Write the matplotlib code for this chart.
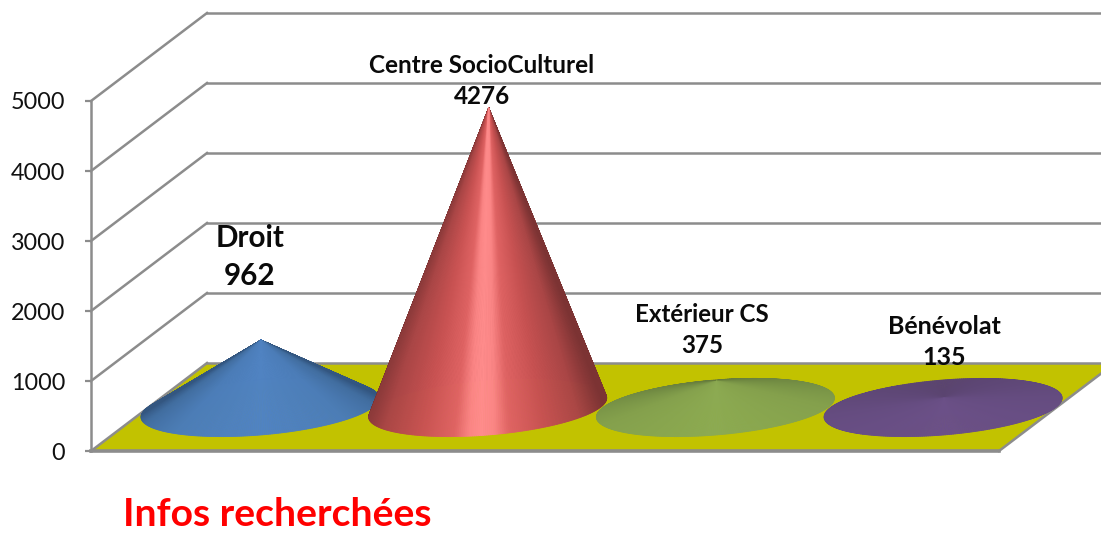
import numpy as np
import matplotlib
matplotlib.use("Agg")
import matplotlib.pyplot as plt
from matplotlib.collections import PolyCollection
from matplotlib.colors import to_rgb

categories = ["Droit", "Centre SocioCulturel", "Extérieur CS", "Bénévolat"]
values = [962, 4276, 375, 135]
y_ticks = [0, 1000, 2000, 3000, 4000, 5000]
title = "Infos recherchées"

W, H = 1101, 533
UX = 227.7          # pixels per category step
UY = 0.07           # pixels per value unit
X0, Y0 = 260.0, 451.0

fig = plt.figure(figsize=(W / 100, H / 100), dpi=100)
ax = fig.add_axes([0, 0, 1, 1])
ax.set_xlim((0 - X0) / UX, (W - X0) / UX)
ax.set_ylim((Y0 - H) / UY, (Y0 - 0) / UY)


def dx(px):
    return (px - X0) / UX


def dy(px):
    return (Y0 - px) / UY


GRAY = "#8c8c8c"
LEFT, RIGHT = dx(91), dx(999)
DEPTH_X, DEPTH_Y = 116 / UX, 88 / UY
END = dx(W + 5)

# floor
ax.fill([LEFT, RIGHT, RIGHT + 116 / UX, LEFT + DEPTH_X],
        [0, 0, DEPTH_Y, DEPTH_Y], color="#c2c200", lw=0, zorder=1)
ax.plot([LEFT + DEPTH_X, END], [DEPTH_Y, DEPTH_Y], color=GRAY, lw=1.8, zorder=1.5)
ax.plot([RIGHT, RIGHT + 116 / UX], [0, DEPTH_Y], color=GRAY, lw=1.8, zorder=1.5)
ax.plot([LEFT, RIGHT], [0, 0], color=GRAY, lw=2.6, zorder=1.5)

# walls and grid
for v in y_ticks:
    ax.plot([LEFT, LEFT + DEPTH_X], [v, v + DEPTH_Y], color=GRAY, lw=1.8, zorder=1.5)
    if v > 0:
        ax.plot([LEFT + DEPTH_X, END], [v + DEPTH_Y, v + DEPTH_Y], color=GRAY, lw=1.8, zorder=0.5)

# axis
for s in ["top", "right", "bottom"]:
    ax.spines[s].set_visible(False)
ax.spines["left"].set_position(("data", LEFT))
ax.spines["left"].set_bounds(0, 5000)
ax.spines["left"].set_color(GRAY)
ax.spines["left"].set_linewidth(1.8)
ax.set_xticks([])
ax.set_yticks(y_ticks)
ax.tick_params(axis="y", length=4, width=1.6, color=GRAY, labelsize=16.8,
               labelcolor="#111111", pad=14.5)
for t in ax.get_yticklabels():
    t.set_fontfamily(["Lato", "DejaVu Sans"])


def ramp(stops, u):
    xs = [s[0] for s in stops]
    cols = np.array([to_rgb(s[1]) for s in stops])
    return np.stack([np.interp(u, xs, cols[:, i]) for i in range(3)], axis=-1)


shades = [
    [(0, "#5083c2"), (0.25, "#4c7db8"), (0.42, "#416d9f"), (0.52, "#335680"), (1.0, "#335680")],
    [(0, "#ff8c8c"), (0.1, "#fb8585"), (0.22, "#e06464"), (0.5, "#c85252"), (0.8, "#aa4646"), (1.0, "#7c3333")],
    [(0, "#8caa52"), (0.4, "#84a04c"), (0.7, "#748e44"), (1.0, "#64793a")],
    [(0, "#6b5088"), (0.5, "#654c80"), (1.0, "#5a4470")],
]
wide = [False, True, False, False]

A = 119.0 / UX      # half width of the base
B = 27.5 / UY       # half depth of the base
S = 9.5 / UY        # shear of the base
BASE = (Y0 - 407.5) / UY
labels_pos = [(250, 257), (482, 81), (702, 330), (944, 342)]
label_size = [21.3, 17.5, 17.4, 18]
label_gap = [1.46, 1.47, 1.39, 1.39]

t = np.linspace(0, 2 * np.pi, 361)
for i, (cat, val) in enumerate(zip(categories, values)):
    ex = i + A * np.cos(t)
    ey = BASE + S * np.cos(t) + B * np.sin(t)
    apex = (i + dx(X0 + 1), BASE + val)
    tris = []
    mid = (t[:-1] + t[1:]) / 2
    if wide[i]:
        u = np.clip(np.abs(np.cos(mid) + 0.05) * 0.98, 0, 1)
        u = np.where(np.sin(mid) > 0, 1.0, u)
    else:
        u = np.arccos(np.clip(-np.sin(mid), -1, 1)) / np.pi
    order = np.argsort(-np.sin(mid))
    for k in order:
        tris.append([apex, (ex[k], ey[k]), (ex[k + 1], ey[k + 1])])
    cols = ramp(shades[i], u[order])
    ax.add_collection(PolyCollection(tris, facecolors=cols, edgecolors=cols,
                                     linewidths=0.6, zorder=3 + i))
    lx, ly = labels_pos[i]
    ax.text(dx(lx), dy(ly), f"{cat}\n{val}", ha="center", va="center",
            fontsize=label_size[i], fontweight="bold", color="#0a0a0a",
            family=["Lato", "DejaVu Sans"], linespacing=label_gap[i], zorder=10)

ax.text(dx(123), dy(514), title, ha="left", va="center", color="#ff0000",
        fontsize=28.2, fontweight="bold", family=["Lato", "DejaVu Sans"], zorder=10)

fig.savefig("out.png", dpi=100)
